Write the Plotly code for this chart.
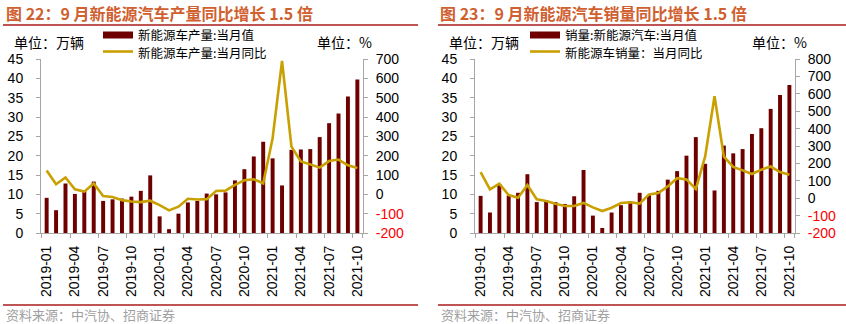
import plotly.graph_objects as go

# ---------------- data ----------------
months = ["2019-01", "2019-02", "2019-03", "2019-04", "2019-05", "2019-06",
          "2019-07", "2019-08", "2019-09", "2019-10", "2019-11", "2019-12",
          "2020-01", "2020-02", "2020-03", "2020-04", "2020-05", "2020-06",
          "2020-07", "2020-08", "2020-09", "2020-10", "2020-11", "2020-12",
          "2021-01", "2021-02", "2021-03", "2021-04", "2021-05", "2021-06",
          "2021-07", "2021-08", "2021-09", "2021-10"]

# 新能源车产量:当月值 (万辆)
prod_vol = [9.1, 5.9, 12.8, 10.1, 10.9, 13.3, 8.3, 8.7, 8.9, 9.4, 10.9, 14.9,
            4.3, 1.0, 5.0, 7.9, 8.3, 10.2, 10.0, 10.5, 13.6, 16.5, 19.8, 23.6,
            19.3, 12.3, 21.5, 21.6, 21.7, 24.8, 28.4, 30.9, 35.3, 39.7]
# 新能源车产量:当月同比 (%)
prod_yoy = [123, 52, 87, 26, 14, 56, -9, -14, -30, -37, -40, -33,
            -56, -83, -64, -23, -27, -25, 17, 19, 49, 73, 78, 57,
            290, 690, 247, 170, 155, 138, 172, 180, 150, 136]

# 销量:新能源汽车:当月值 (万辆)
sales_vol = [9.6, 5.3, 12.6, 9.7, 10.4, 15.2, 8.0, 8.5, 8.0, 7.5, 9.5, 16.3,
             4.5, 1.3, 5.3, 7.2, 8.2, 10.4, 9.8, 10.9, 13.8, 16.0, 20.0, 24.8,
             17.9, 11.0, 22.6, 20.6, 21.7, 25.6, 27.1, 32.1, 35.7, 38.3]
# 新能源车销量:当月同比 (%)
sales_yoy = [150, 51, 84, 18, 2, 76, -6, -16, -32, -45, -45, -27,
             -53, -74, -55, -28, -23, -31, 22, 30, 68, 115, 108, 53,
             240, 586, 239, 180, 160, 139, 164, 182, 150, 135]

left_ticks = [0, 5, 10, 15, 20, 25, 30, 35, 40, 45]
prod_yoy_ticks = [-200, -100, 0, 100, 200, 300, 400, 500, 600, 700]
sales_yoy_ticks = [-200, -100, 0, 100, 200, 300, 400, 500, 600, 700, 800]
x_ticks = months[::3]

titles = ["图 22：9 月新能源汽车产量同比增长 1.5 倍",
          "图 23：9 月新能源汽车销量同比增长 1.5 倍"]
legend_bar = ["新能源车产量:当月值", "销量:新能源汽车:当月值"]
legend_line = ["新能源车产量:当月同比", "新能源车销量：当月同比"]
unit_left = "单位：万辆"
unit_right = "单位：%"
source = "资料来源：中汽协、招商证券"

# ---------------- style ----------------
W, H = 846, 324
BAR = "#6E0000"
GOLD = "#C9A000"
AXIS = "#A6A6A6"
TITLE_C = "#D0602F"
RULE_C = "#A81C1C"
NUM_FONT = "Liberation Sans, Arial, sans-serif"
CJK_FONT = "Noto Sans CJK SC, sans-serif"


def px(x):
    return x / W


def py(y):
    return 1 - y / H


def tick_text(vals):
    out = []
    for v in vals:
        if v < 0:
            out.append('<span style="color:#FF0000">%d</span>' % v)
        else:
            out.append(str(v))
    return out


fig = go.Figure()
fig.add_trace(go.Bar(x=months, y=prod_vol, marker=dict(color=BAR, line=dict(width=0)),
                     width=0.42, xaxis="x", yaxis="y", showlegend=False))
fig.add_trace(go.Scatter(x=months, y=prod_yoy, mode="lines",
                         line=dict(color=GOLD, width=2.6), cliponaxis=False,
                         xaxis="x", yaxis="y2", showlegend=False))
fig.add_trace(go.Bar(x=months, y=sales_vol, marker=dict(color=BAR, line=dict(width=0)),
                     width=0.42, xaxis="x2", yaxis="y3", showlegend=False))
fig.add_trace(go.Scatter(x=months, y=sales_yoy, mode="lines",
                         line=dict(color=GOLD, width=2.6), cliponaxis=False,
                         xaxis="x2", yaxis="y4", showlegend=False))

ydom = [py(233), py(59)]
tickfont = dict(family=NUM_FONT, size=14, color="#000000")

common_x = dict(type="category", tickmode="array", tickvals=x_ticks, ticktext=x_ticks,
                tickangle=-90, tickson="boundaries", ticks="outside", ticklen=4,
                tickcolor=AXIS, showline=True, linecolor=AXIS, linewidth=1,
                showgrid=False, zeroline=False, tickfont=tickfont, automargin=False,
                range=[-0.6, 33.6], ticklabelstandoff=6)
common_yl = dict(domain=ydom, range=[0, 45], tickmode="array", tickvals=left_ticks,
                 ticks="outside", ticklen=4, tickcolor=AXIS, showline=True,
                 linecolor=AXIS, linewidth=1, showgrid=False, zeroline=False,
                 tickfont=tickfont, ticklabelstandoff=10, automargin=False)
common_yr = dict(side="right", tickmode="array", ticks="outside", ticklen=4,
                 tickcolor=AXIS, showline=True, linecolor=AXIS, linewidth=1,
                 showgrid=False, zeroline=False, tickfont=tickfont,
                 ticklabelstandoff=5, automargin=False)

fig.update_layout(
    width=W, height=H,
    margin=dict(l=0, r=0, t=0, b=0, autoexpand=False),
    paper_bgcolor="white", plot_bgcolor="white",
    bargap=0.5,
    xaxis=dict(domain=[px(41), px(363)], anchor="y", **common_x),
    xaxis2=dict(domain=[px(475), px(795)], anchor="y3", **common_x),
    yaxis=dict(anchor="x", **common_yl),
    yaxis2=dict(anchor="x", overlaying="y", range=[-200, 700],
                tickvals=prod_yoy_ticks, ticktext=tick_text(prod_yoy_ticks), **common_yr),
    yaxis3=dict(anchor="x2", **common_yl),
    yaxis4=dict(anchor="x2", overlaying="y3", range=[-200, 800],
                tickvals=sales_yoy_ticks, ticktext=tick_text(sales_yoy_ticks), **common_yr),
)

shapes = []
annotations = []
panels = [
    dict(x0=3, x1=418, title_x=4, leg_x=103, unit_lx=12, unit_rx=315),
    dict(x0=438, x1=846, title_x=438, leg_x=530, unit_lx=447, unit_rx=750),
]
for i, p in enumerate(panels):
    # title rule and bottom rule
    shapes.append(dict(type="line", xref="paper", yref="paper",
                       x0=px(p["x0"]), x1=px(p["x1"]), y0=py(25), y1=py(25),
                       line=dict(color=RULE_C, width=1.5)))
    shapes.append(dict(type="line", xref="paper", yref="paper",
                       x0=px(p["x0"]), x1=px(p["x1"]), y0=py(305), y1=py(305),
                       line=dict(color=RULE_C, width=1.5)))
    # legend symbols
    shapes.append(dict(type="rect", xref="paper", yref="paper",
                       x0=px(p["leg_x"]), x1=px(p["leg_x"] + 30), y0=py(38.5), y1=py(31.5),
                       fillcolor=BAR, line=dict(width=0)))
    shapes.append(dict(type="line", xref="paper", yref="paper",
                       x0=px(p["leg_x"]), x1=px(p["leg_x"] + 30), y0=py(51.5), y1=py(51.5),
                       line=dict(color=GOLD, width=2.6)))
    annotations.append(dict(text="<b>" + titles[i] + "</b>", xref="paper", yref="paper",
                            x=px(p["title_x"]), y=py(13), xanchor="left", yanchor="middle",
                            showarrow=False, font=dict(family=CJK_FONT, size=16, color=TITLE_C)))
    annotations.append(dict(text=legend_bar[i], xref="paper", yref="paper",
                            x=px(p["leg_x"] + 33), y=py(34), xanchor="left", yanchor="middle",
                            showarrow=False, font=dict(family=CJK_FONT, size=12.5, color="#000000")))
    annotations.append(dict(text=legend_line[i], xref="paper", yref="paper",
                            x=px(p["leg_x"] + 33), y=py(52.5), xanchor="left", yanchor="middle",
                            showarrow=False, font=dict(family=CJK_FONT, size=12.5, color="#000000")))
    annotations.append(dict(text=unit_left, xref="paper", yref="paper",
                            x=px(p["unit_lx"]), y=py(42), xanchor="left", yanchor="middle",
                            showarrow=False, font=dict(family=CJK_FONT, size=14, color="#000000")))
    annotations.append(dict(text=unit_right, xref="paper", yref="paper",
                            x=px(p["unit_rx"]), y=py(42), xanchor="left", yanchor="middle",
                            showarrow=False, font=dict(family=CJK_FONT, size=14, color="#000000")))
    annotations.append(dict(text=source, xref="paper", yref="paper",
                            x=px(p["x0"] + 1), y=py(314), xanchor="left", yanchor="middle",
                            showarrow=False, font=dict(family=CJK_FONT, size=13, color="#A0A0A0")))

fig.update_layout(shapes=shapes, annotations=annotations)
fig.write_html("out.html")
